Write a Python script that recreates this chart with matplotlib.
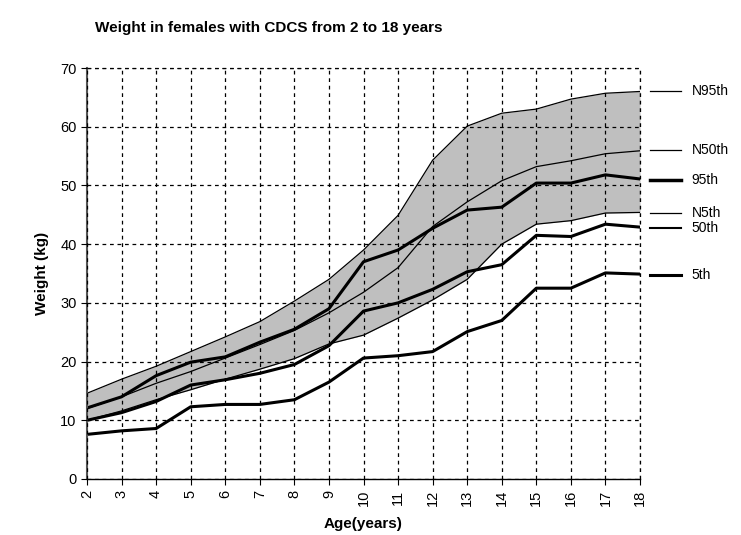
import numpy as np
import matplotlib
matplotlib.use("Agg")
import matplotlib.pyplot as plt

plt.rcParams['font.family'] = ['Liberation Sans', 'DejaVu Sans']

# Data
age = [2, 3, 4, 5, 6, 7, 8, 9, 10, 11, 12, 13, 14, 15, 16, 17, 18]
n95 = [14.6, 17.0, 19.2, 21.7, 24.2, 26.8, 30.3, 34.0, 39.0, 44.9, 54.3, 60.1, 62.3, 63.0, 64.7, 65.7, 66.0]
n50 = [12.0, 14.0, 16.3, 18.3, 20.6, 22.9, 25.3, 28.3, 31.8, 36.0, 43.0, 47.2, 50.8, 53.2, 54.2, 55.4, 55.9]
n5 = [10.0, 11.6, 13.5, 15.2, 17.0, 18.7, 20.5, 23.0, 24.5, 27.4, 30.5, 34.0, 40.0, 43.4, 44.0, 45.3, 45.4]
p95 = [12.1, 14.0, 17.6, 19.9, 20.8, 23.3, 25.5, 29.0, 37.0, 39.0, 42.7, 45.8, 46.3, 50.4, 50.4, 51.8, 51.1]
p50 = [10.0, 11.3, 13.2, 16.0, 16.9, 18.0, 19.5, 22.7, 28.6, 30.0, 32.3, 35.3, 36.5, 41.5, 41.3, 43.4, 42.9]
p5 = [7.6, 8.2, 8.6, 12.3, 12.7, 12.7, 13.5, 16.5, 20.6, 21.0, 21.7, 25.1, 27.0, 32.5, 32.5, 35.1, 34.9]

fig = plt.figure(figsize=(7.41, 5.35), dpi=100)
ax = fig.add_axes([87/741, 1 - 479/535, (640 - 87)/741, (479 - 68)/535])

ax.fill_between(age, n5, n95, color='#bfbfbf', linewidth=0)
for s in [n95, n50, n5]:
    ax.plot(age, s, color='black', linewidth=0.9)
for s in [p95, p50, p5]:
    ax.plot(age, s, color='black', linewidth=2.2)

ax.set_xlim(2, 18)
ax.set_ylim(0, 70)
ax.set_xticks(age)
ax.set_xticklabels([str(a) for a in age], rotation=90)
ax.set_yticks(range(0, 71, 10))
dash = (0, (3, 3))
ax.grid(True, color='black', linestyle=dash, linewidth=0.9)
# dashed frame on top and right like the grid
ax.axhline(70, color='black', linestyle=dash, linewidth=0.9, clip_on=False)
ax.axvline(18, color='black', linestyle=dash, linewidth=0.9, clip_on=False)
ax.spines['top'].set_visible(False)
ax.spines['right'].set_visible(False)
ax.spines['left'].set_color('#555555')
ax.spines['left'].set_linewidth(1.5)
ax.spines['bottom'].set_linewidth(1.0)
ax.tick_params(direction='out', length=4, labelsize=10.5, colors='black')
ax.set_axisbelow(False)

ax.set_xlabel('Age(years)', fontsize=11, fontweight='bold', labelpad=8)
ax.set_ylabel('Weight (kg)', fontsize=11, fontweight='bold', labelpad=8)
fig.text(95/741, 1 - 28/535, 'Weight in females with CDCS from 2 to 18 years',
         fontsize=11, fontweight='bold', ha='left', va='center')

# legend-like labels on the right
labels = ['N95th', 'N50th', '95th', 'N5th', '50th', '5th']
label_vals = [66.0, 56.0, 51.0, 45.3, 42.7, 34.7]
widths = [0.9, 0.9, 2.5, 0.9, 1.5, 2.2]
for lab, v, w in zip(labels, label_vals, widths):
    ax.plot([18.3, 19.2], [v, v], color='black', linewidth=w, clip_on=False)
    ax.text(19.5, v, lab, fontsize=10, va='center', ha='left')

fig.savefig('out.png', dpi=100)
